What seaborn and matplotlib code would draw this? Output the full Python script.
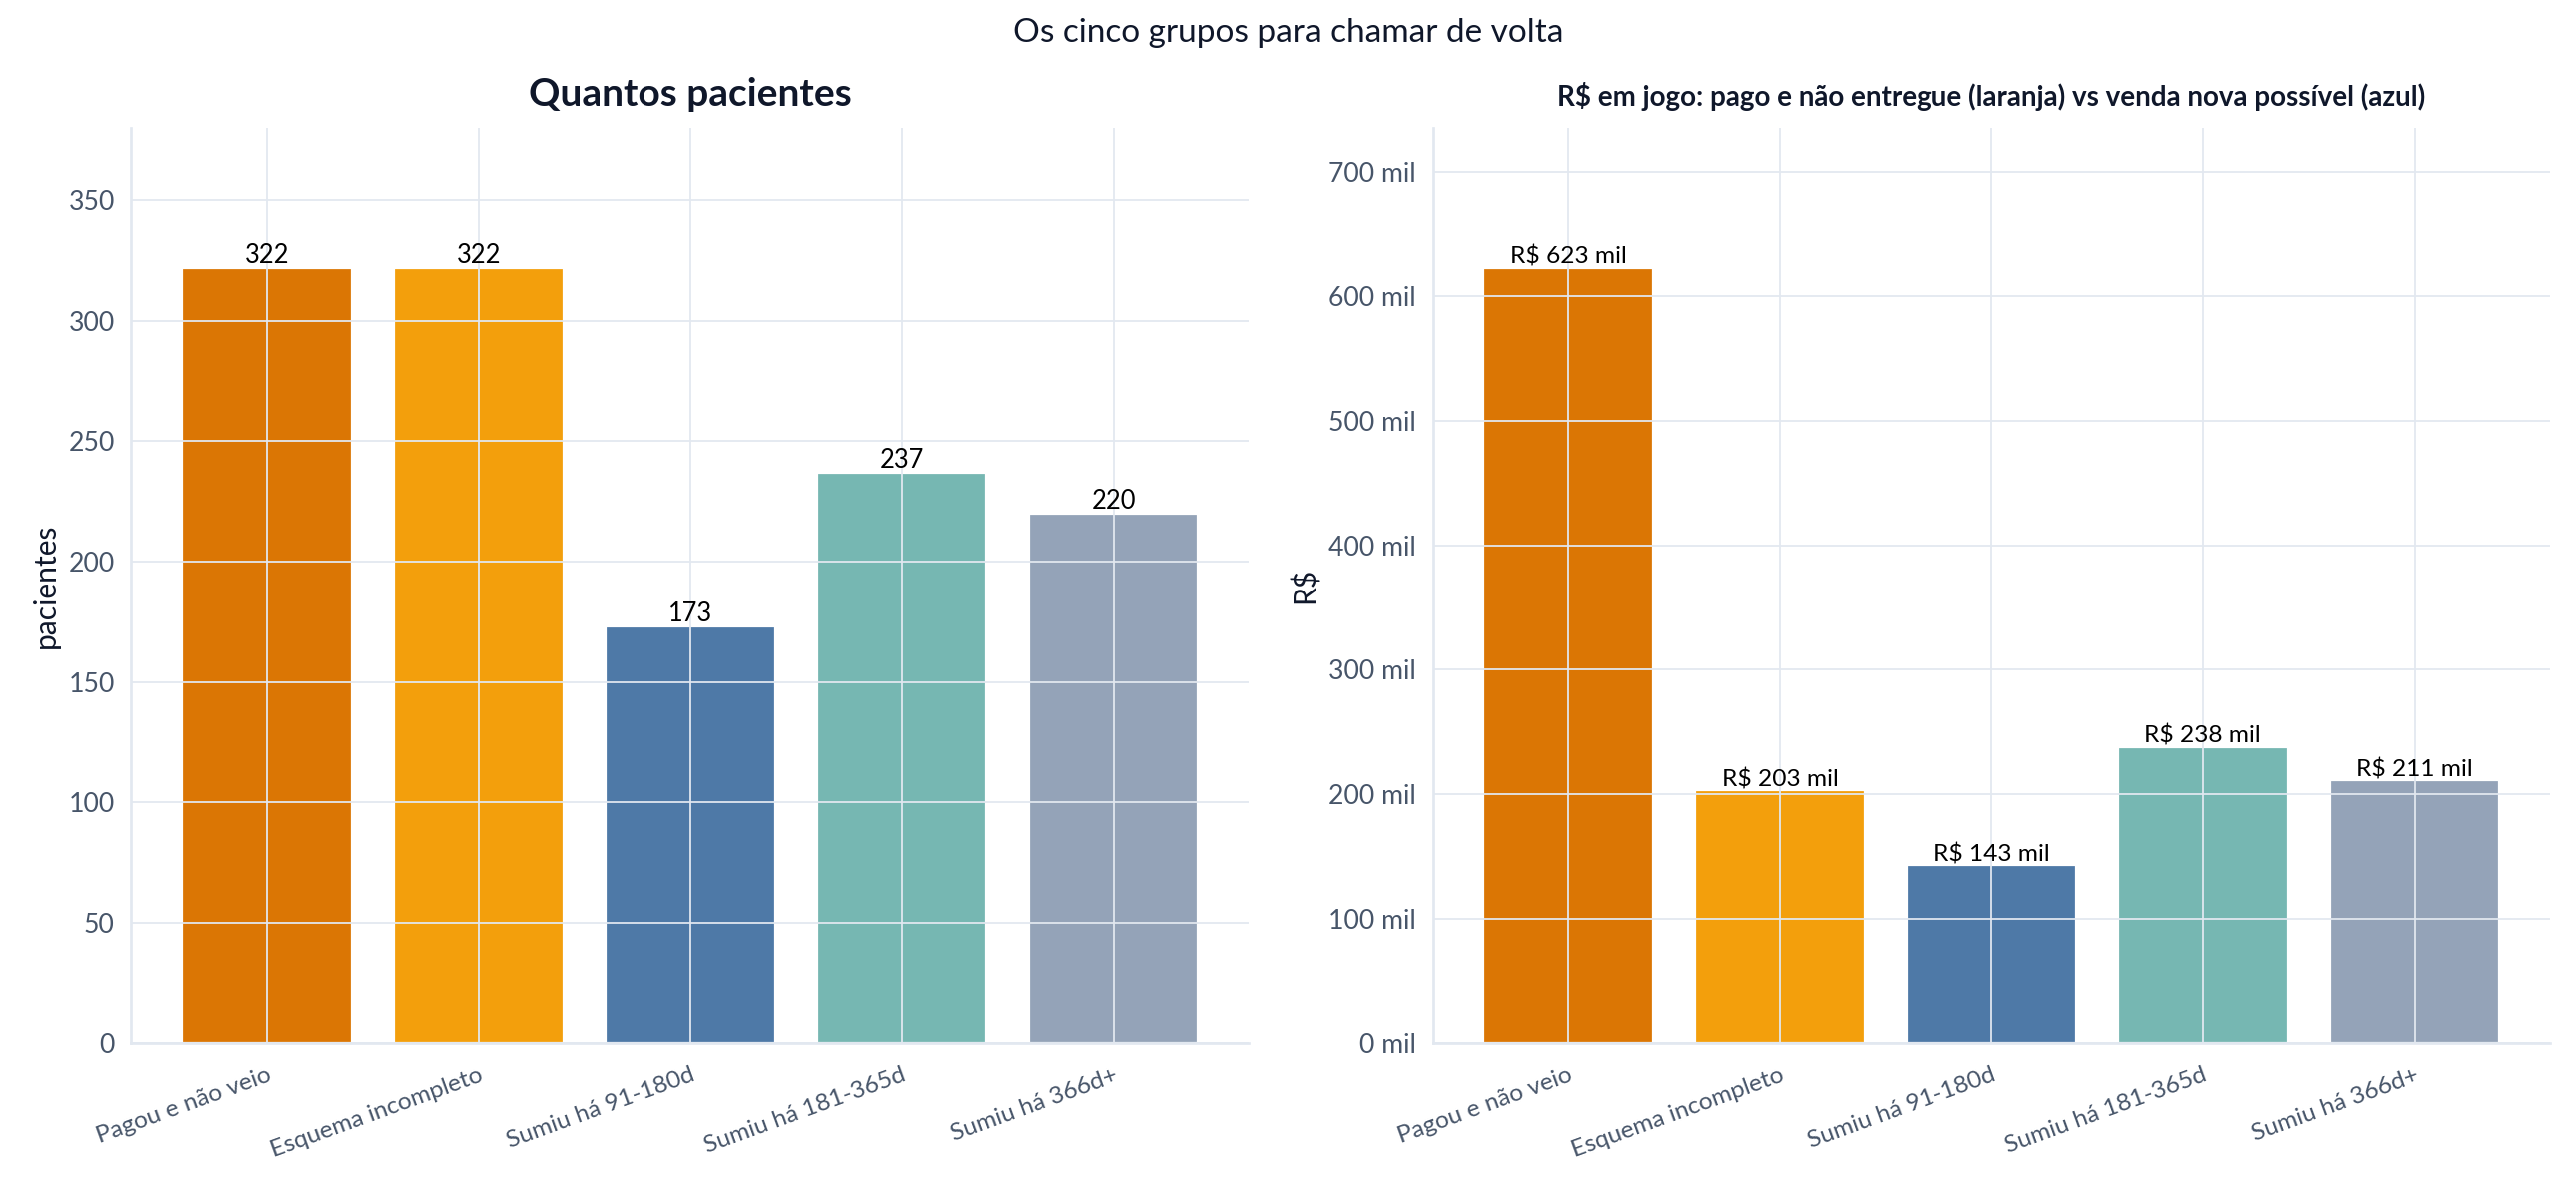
import numpy as np
import matplotlib
matplotlib.use("Agg")
import matplotlib.pyplot as plt
import seaborn as sns
import pandas as pd
from matplotlib.ticker import FuncFormatter

grupos = ["Pagou e não veio", "Esquema incompleto", "Sumiu há 91-180d",
          "Sumiu há 181-365d", "Sumiu há 366d+"]
pacientes = [322, 322, 173, 237, 220]
reais = [623000, 203000, 143000, 238000, 211000]
cores = ["#DB7604", "#F39F0C", "#4E79A7", "#76B7B2", "#94A3B8"]

sns.set_theme(style="white")
plt.rcParams['font.family'] = ['Lato', 'DejaVu Sans']

GRID = "#E2E8F0"
TICK = "#475569"
DARK = "#0F172A"

df = pd.DataFrame({"grupo": grupos, "pacientes": pacientes, "reais": reais})

fig, axes = plt.subplots(1, 2, figsize=(2578 / 160, 1184 / 160), dpi=160)
fig.subplots_adjust(left=0.051, right=0.990, top=0.892, bottom=0.118, wspace=0.164)


def estilo(ax):
    ax.set_xlim(-0.64, len(grupos) - 1 + 0.64)
    ax.set_axisbelow(False)
    ax.grid(True, color=GRID, linewidth=0.8)
    for s in ['top', 'right']:
        ax.spines[s].set_visible(False)
    for s in ['left', 'bottom']:
        ax.spines[s].set_color(GRID)
        ax.spines[s].set_linewidth(1.2)
    ax.tick_params(axis='y', length=4, width=1.2, color=TICK, labelcolor=TICK, labelsize=12)
    ax.tick_params(axis='x', length=6, width=1.2, color=TICK, labelcolor=TICK, labelsize=11)
    plt.setp(ax.get_xticklabels(), rotation=20, ha='right', rotation_mode='anchor')
    ax.set_xlabel("")


ax = axes[0]
sns.barplot(data=df, x="grupo", y="pacientes", hue="grupo", palette=cores,
            legend=False, width=0.8, saturation=1, ax=ax)
ax.set_ylim(0, max(pacientes) * 1.18)
for c in ax.containers:
    ax.bar_label(c, fmt="%d", fontsize=11.5, color="black", padding=0)
ax.set_title("Quantos pacientes", fontsize=17.5, fontweight="bold", color=DARK, pad=10)
ax.set_ylabel("pacientes", fontsize=13.5, color=DARK)
estilo(ax)

ax = axes[1]
sns.barplot(data=df, x="grupo", y="reais", hue="grupo", palette=cores,
            legend=False, width=0.8, saturation=1, ax=ax)
ax.set_ylim(0, max(reais) * 1.18)
for c in ax.containers:
    ax.bar_label(c, labels=[f"R$ {v.get_height() / 1000:.0f} mil" for v in c],
                 fontsize=11, color="black", padding=0)
ax.yaxis.set_major_formatter(FuncFormatter(lambda v, p: f"{v / 1000:.0f} mil"))
ax.set_title("R$ em jogo: pago e não entregue (laranja) vs venda nova possível (azul)",
             fontsize=12.5, fontweight="bold", color=DARK, pad=10)
ax.set_ylabel("R$", fontsize=13.5, color=DARK)
estilo(ax)

fig.suptitle("Os cinco grupos para chamar de volta", fontsize=15, color=DARK, y=0.985)

fig.savefig("out.png", dpi=160, facecolor="white")
